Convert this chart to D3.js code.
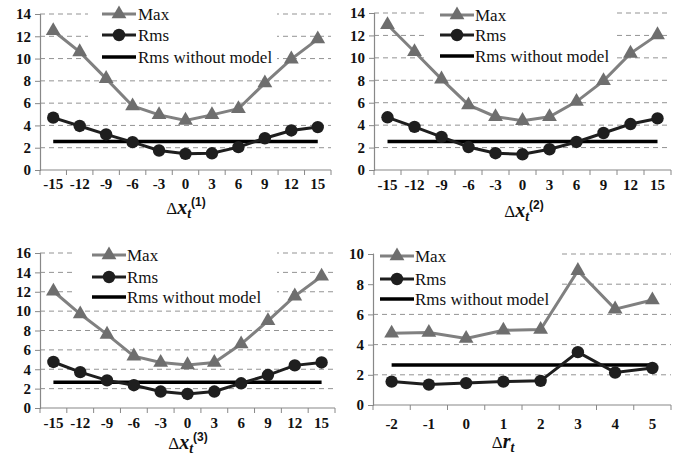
<!DOCTYPE html>
<html>
<head>
<meta charset="utf-8">
<script src="https://cdn.jsdelivr.net/npm/d3@7"></script>
<style>
  body { margin: 0; background: #fff; }
  svg { display: block; }
  text { font-family: "Liberation Serif", "DejaVu Serif", serif; }
</style>
</head>
<body>
<svg id="chart" width="682" height="457"></svg>
<script>
// categories
var xCats = [-15, -12, -9, -6, -3, 0, 3, 6, 9, 12, 15];
var rCats = [-2, -1, 0, 1, 2, 3, 4, 5];

// series values
var max1 = [12.5, 10.6, 8.2, 5.75, 4.95, 4.45, 4.95, 5.5, 7.8, 9.95, 11.75];
var rms1 = [4.7, 3.95, 3.2, 2.5, 1.75, 1.45, 1.5, 2.05, 2.85, 3.55, 3.85];
var max2 = [12.95, 10.55, 8.1, 5.8, 4.75, 4.4, 4.75, 6.1, 7.95, 10.4, 12.05];
var rms2 = [4.7, 3.85, 2.95, 2.05, 1.5, 1.4, 1.85, 2.5, 3.3, 4.1, 4.6];
var max3 = [12.05, 9.7, 7.6, 5.35, 4.7, 4.45, 4.7, 6.6, 9.0, 11.55, 13.6];
var rms3 = [4.75, 3.7, 2.85, 2.35, 1.7, 1.45, 1.7, 2.55, 3.4, 4.4, 4.7];
var max4 = [4.75, 4.8, 4.4, 4.95, 5.0, 8.9, 6.35, 6.95];
var rms4 = [1.55, 1.35, 1.45, 1.55, 1.6, 3.5, 2.15, 2.45];
var noModel = [2.55, 2.55, 2.65, 2.65];

var yMax = [14, 14, 16, 10];
var xTitles = ["1", "2", "3", null];

var svg = d3.select("#chart");

// layout of each panel (pixel boxes)
var panels = [
  {cats: xCats, max: max1, rms: rms1, left: 40, right: 331, top: 14, bottom: 170,
   leg: {x0: 88, y0: 0, x1: 277, y1: 64, sx: 102, tx: 138, rows: [14, 35, 57]},
   labY: 189, title: {x: 186, y: 214}},
  {cats: xCats, max: max2, rms: rms2, left: 374, right: 671, top: 13, bottom: 170,
   leg: {x0: 427, y0: 0, x1: 617, y1: 64, sx: 440, tx: 475, rows: [15, 35, 56]},
   labY: 190, title: {x: 524, y: 217}},
  {cats: xCats, max: max3, rms: rms3, left: 40, right: 335, top: 253, bottom: 408,
   leg: {x0: 72, y0: 240, x1: 277, y1: 305, sx: 92, tx: 127, rows: [255, 277, 297]},
   labY: 428, title: {x: 188, y: 449}},
  {cats: rCats, max: max4, rms: rms4, left: 373, right: 671, top: 254, bottom: 405,
   leg: {x0: 374, y0: 240, x1: 558, y1: 308, sx: 380, tx: 415, rows: [256, 279, 299]},
   labY: 429, title: {x: 503, y: 448}}
];

var triangle = d3.symbol().type(d3.symbolTriangle).size(95);

panels.forEach(function(p, i) {
  var g = svg.append("g");

  var x = d3.scaleBand().domain(p.cats).range([p.left, p.right]);
  var y = d3.scaleLinear().domain([0, yMax[i]]).range([p.bottom, p.top]);
  var cx = function(d) { return x(d) + x.bandwidth() / 2; };

  var yTicks = d3.range(0, yMax[i] + 0.1, 2);

  // dashed grid lines
  g.selectAll(".grid")
    .data(yTicks.filter(function(d) { return d > 0; }))
    .enter().append("line")
    .attr("x1", p.left).attr("x2", p.right)
    .attr("y1", function(d) { return y(d); })
    .attr("y2", function(d) { return y(d); })
    .attr("stroke", "#939393")
    .attr("stroke-width", 1)
    .attr("stroke-dasharray", "5,4");

  // white legend box hides the grid under it
  g.append("rect")
    .attr("x", p.leg.x0).attr("y", p.leg.y0)
    .attr("width", p.leg.x1 - p.leg.x0)
    .attr("height", p.leg.y1 - p.leg.y0)
    .attr("fill", "#fff");

  // y axis
  var yAxis = d3.axisLeft(y).tickValues(yTicks).tickSize(5).tickPadding(4);
  var ya = g.append("g")
    .attr("transform", "translate(" + p.left + ",0)")
    .call(yAxis)
    .attr("font-family", null);
  ya.select(".domain").attr("stroke", "#888").attr("stroke-width", 1.2);
  ya.selectAll(".tick line").attr("stroke", "#888");
  ya.selectAll(".tick text")
    .attr("font-weight", "bold")
    .attr("font-size", 15)
    .attr("fill", "#111");

  // x axis: line + boundary ticks
  g.append("line")
    .attr("x1", p.left).attr("x2", p.right)
    .attr("y1", p.bottom).attr("y2", p.bottom)
    .attr("stroke", "#888").attr("stroke-width", 1.2);
  var bounds = p.cats.map(function(d) { return x(d); }).concat([p.right]);
  g.selectAll(".xt")
    .data(bounds)
    .enter().append("line")
    .attr("x1", function(d) { return d; })
    .attr("x2", function(d) { return d; })
    .attr("y1", p.bottom).attr("y2", p.bottom + 5)
    .attr("stroke", "#888");
  g.selectAll(".xl")
    .data(p.cats)
    .enter().append("text")
    .attr("x", cx)
    .attr("y", p.labY)
    .attr("text-anchor", "middle")
    .attr("font-weight", "bold")
    .attr("font-size", 15)
    .attr("fill", "#111")
    .text(function(d) { return d; });

  // rms without model
  g.append("line")
    .attr("x1", cx(p.cats[0]))
    .attr("x2", cx(p.cats[p.cats.length - 1]))
    .attr("y1", y(noModel[i])).attr("y2", y(noModel[i]))
    .attr("stroke", "#000").attr("stroke-width", 3.5);

  var line = function(vals) {
    return d3.line()
      .x(function(d, j) { return cx(p.cats[j]); })
      .y(function(d) { return y(d); })(vals);
  };

  // max series
  g.append("path")
    .attr("d", line(p.max))
    .attr("fill", "none")
    .attr("stroke", "#808080")
    .attr("stroke-width", 3);
  g.selectAll(".tri")
    .data(p.max)
    .enter().append("path")
    .attr("d", triangle)
    .attr("transform", function(d, j) { return "translate(" + cx(p.cats[j]) + "," + y(d) + ")"; })
    .attr("fill", "#6e6e6e");

  // rms series
  g.append("path")
    .attr("d", line(p.rms))
    .attr("fill", "none")
    .attr("stroke", "#1e1e1e")
    .attr("stroke-width", 3);
  g.selectAll(".dot")
    .data(p.rms)
    .enter().append("circle")
    .attr("cx", function(d, j) { return cx(p.cats[j]); })
    .attr("cy", function(d) { return y(d); })
    .attr("r", 6.2)
    .attr("fill", "#1e1e1e");

  // legend
  var L = p.leg, sw = 34;
  g.append("line")
    .attr("x1", L.sx).attr("x2", L.sx + sw)
    .attr("y1", L.rows[0]).attr("y2", L.rows[0])
    .attr("stroke", "#808080").attr("stroke-width", 3);
  g.append("path")
    .attr("d", triangle)
    .attr("transform", "translate(" + (L.sx + sw / 2) + "," + L.rows[0] + ")")
    .attr("fill", "#6e6e6e");
  g.append("line")
    .attr("x1", L.sx).attr("x2", L.sx + sw)
    .attr("y1", L.rows[1]).attr("y2", L.rows[1])
    .attr("stroke", "#1e1e1e").attr("stroke-width", 3);
  g.append("circle")
    .attr("cx", L.sx + sw / 2).attr("cy", L.rows[1]).attr("r", 6.2)
    .attr("fill", "#1e1e1e");
  g.append("line")
    .attr("x1", L.sx).attr("x2", L.sx + sw)
    .attr("y1", L.rows[2]).attr("y2", L.rows[2])
    .attr("stroke", "#000").attr("stroke-width", 3.5);

  ["Max", "Rms", "Rms without model"].forEach(function(t, k) {
    g.append("text")
      .attr("x", L.tx)
      .attr("y", L.rows[k])
      .attr("dy", "0.34em")
      .attr("font-size", 17)
      .attr("fill", "#111")
      .text(t);
  });

  // axis title
  var tt = g.append("text")
    .attr("x", p.title.x)
    .attr("y", p.title.y)
    .attr("text-anchor", "middle")
    .attr("fill", "#111");
  tt.append("tspan").attr("font-size", 17).text("\u0394");
  tt.append("tspan").attr("font-size", 20).attr("font-weight", "bold")
    .attr("font-style", "italic").text(i < 3 ? "x" : "r");
  tt.append("tspan").attr("font-size", 14).attr("font-weight", "bold")
    .attr("font-style", "italic").attr("dy", 4).text("t");
  if (xTitles[i]) {
    tt.append("tspan").attr("font-size", 12).attr("font-weight", "bold")
      .attr("font-family", "Liberation Sans, Arial, sans-serif")
      .attr("dy", -12).text("(" + xTitles[i] + ")");
  }
});
</script>
</body>
</html>
